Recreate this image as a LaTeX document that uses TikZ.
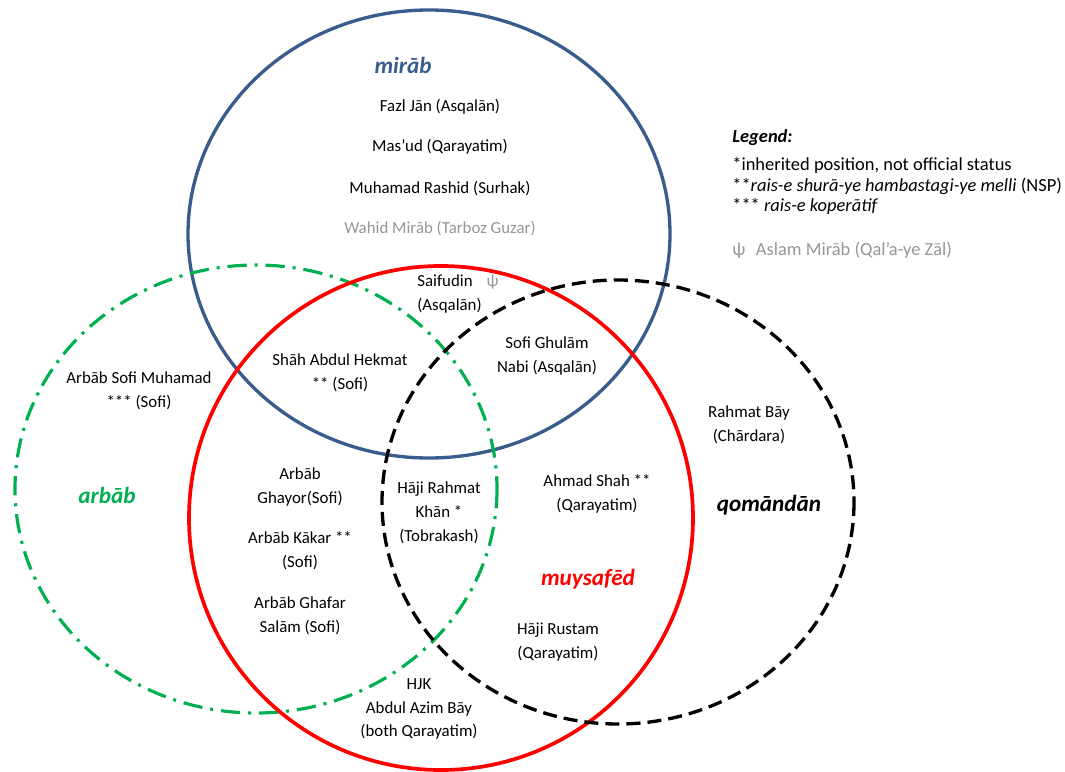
\documentclass[tikz,border=0pt]{standalone}
\usepackage{fontspec}
\setmainfont{Carlito}
\usepackage{xcolor}
\usetikzlibrary{math}
\definecolor{mblue}{RGB}{56,93,140}
\definecolor{agreen}{RGB}{0,176,80}
\definecolor{mred}{RGB}{255,0,0}
\definecolor{lgray}{RGB}{150,150,150}

\begin{document}
\begin{tikzpicture}[x=0.02cm, y=-0.02cm,
  person/.style={align=center, inner sep=0pt, font=\fontsize{9.6}{13.6}\selectfont},
  grouptitle/.style={inner sep=0pt, font=\fontsize{13.2}{15}\selectfont\bfseries\itshape},
  legendtext/.style={anchor=west, inner sep=0pt, font=\fontsize{10.5}{12}\selectfont}]
\tikzmath{
\rx=241;
\ry=224;
}
\useasboundingbox (0,0) rectangle (1065,771);
\draw[mblue, line width=1.9pt] (429,234) ellipse [x radius=\rx, y radius=\ry];
\draw[agreen, line width=1.8pt, dash pattern=on 11pt off 4.5pt on 1.7pt off 4.5pt] (256,489) ellipse [x radius=\rx, y radius=\ry];
\draw[mred, line width=2.1pt] (441,518) circle [radius=252];
\draw[black, line width=1.9pt, dash pattern=on 8pt off 4pt] (618,502) ellipse [x radius=236, y radius=222];

\node[grouptitle, mblue] (mirab) at (403,65) {mirāb};
\node[grouptitle, agreen] (arbab) at (107,495) {arbāb};
\node[grouptitle, mred] (muysafed) at (588,579) {muysafēd};
\node[grouptitle] (qomandan) at (769,505) {qomāndān};

\node[person] (fazl) at (440,107) {Fazl Jān (Asqalān)};
\node[person] (masud) at (440,147) {Mas’ud (Qarayatim)};
\node[person] (rashid) at (440,188) {Muhamad Rashid (Surhak)};
\node[person, lgray] (wahid) at (440,228) {Wahid Mirāb (Tarboz Guzar)};
\node[person, align=left, anchor=west] (saifudin) at (417,294) {Saifudin\hspace{8pt}{\color{lgray}ψ}\\(Asqalān)};
\node[person] (hekmat) at (340,373) {Shāh Abdul Hekmat\\** (Sofi)};
\node[person] (nabi) at (547,356) {Sofi Ghulām\\Nabi (Asqalān)};
\node[person] (sofimuhamad) at (139,391) {Arbāb Sofi Muhamad\\*** (Sofi)};
\node[person] (ghayor) at (300,487) {Arbāb\\Ghayor(Sofi)};
\node[person] (kakar) at (300,551) {Arbāb Kākar **\\(Sofi)};
\node[person] (ghafar) at (300,616) {Arbāb Ghafar\\Salām (Sofi)};
\node[person] (rahmatkhan) at (439,513) {Hāji Rahmat\\Khān *\\(Tobrakash)};
\node[person] (hjk) at (419,709) {HJK\\Abdul Azim Bāy\\(both Qarayatim)};
\node[person] (ahmad) at (597,494) {Ahmad Shah **\\(Qarayatim)};
\node[person] (rustam) at (558,642) {Hāji Rustam\\(Qarayatim)};
\node[person] (rahmatbay) at (749,425) {Rahmat Bāy\\(Chārdara)};

\node[legendtext, font=\fontsize{10.5}{12}\selectfont\bfseries\itshape] (leg) at (732,138) {Legend:};
\node[legendtext] (legone) at (732,165) {*inherited position, not official status};
\node[legendtext] (legtwo) at (732,186) {**\textit{rais-e shurā-ye hambastagi-ye melli} (NSP)};
\node[legendtext] (legthree) at (732,206) {*** \textit{rais-e koperātif}};
\node[legendtext, lgray] (aslam) at (732,250) {ψ\hspace{6pt}Aslam Mirāb (Qal’a-ye Zāl)};
\end{tikzpicture}
\end{document}
